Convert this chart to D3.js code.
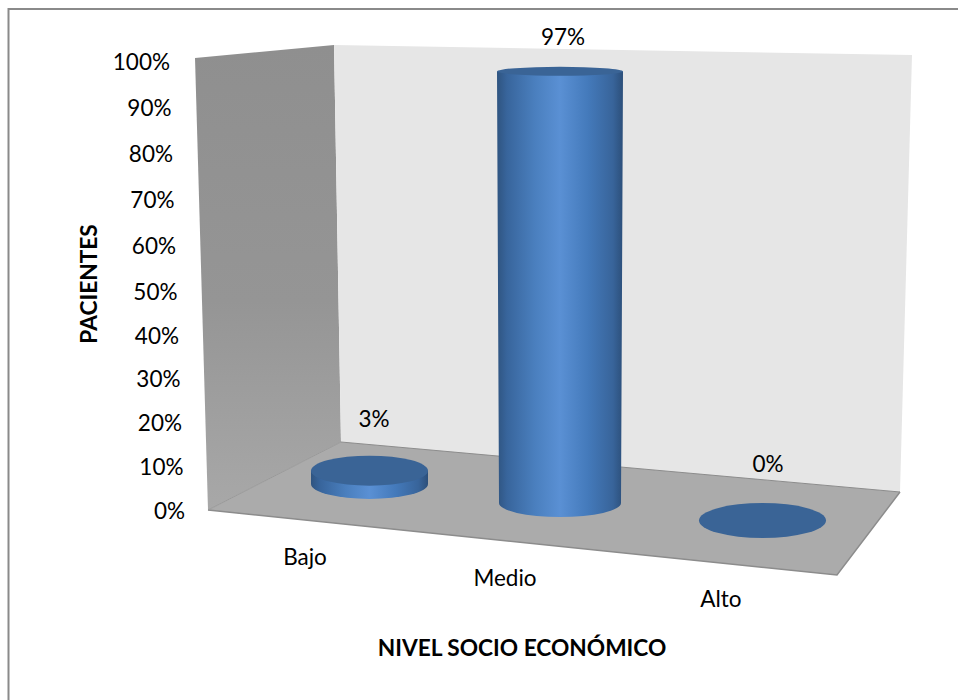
<!DOCTYPE html>
<html><head><meta charset="utf-8">
<script src="https://cdn.jsdelivr.net/npm/d3@7"></script>
<style>html,body{margin:0;padding:0;background:#fff}svg{display:block}text{font-family:Lato,"Open Sans",sans-serif;fill:#000}</style>
</head><body><svg id="c" width="958" height="700"></svg>
<script>
const categories = ["Bajo","Medio","Alto"];
const values = [3,97,0];
const valueLabels = ["3%","97%","0%"];
const ticks = [0,10,20,30,40,50,60,70,80,90,100];
const xTitle = "NIVEL SOCIO ECONÓMICO";
const yTitle = "PACIENTES";

const svg = d3.select("#c");
svg.append("path").attr("d","M958,9H8.5V700").attr("fill","none").attr("stroke","#8a8a8a").attr("stroke-width",2);

const defs = svg.append("defs");
const g = defs.append("linearGradient").attr("id","cyl").attr("x1","0").attr("x2","1").attr("y1","0").attr("y2","0");
[[0,"#2f5480"],[0.08,"#38659c"],[0.3,"#4a7fbe"],[0.5,"#5a90d4"],[0.72,"#447abb"],[0.92,"#38649a"],[1,"#2c4f7a"]].forEach(s=>g.append("stop").attr("offset",s[0]).attr("stop-color",s[1]));
const wg = defs.append("linearGradient").attr("id","wall").attr("x1","0").attr("x2","0").attr("y1","0").attr("y2","1");
[[0,"#8f8f8f"],[0.55,"#959595"],[1,"#a8a8a8"]].forEach(s=>wg.append("stop").attr("offset",s[0]).attr("stop-color",s[1]));

const poly = p => d3.line()(p)+"Z";
const LW = {tl:[195,58],tr:[334,45],br:[341,442],bl:[208,510]};
const BW = {tl:[334,45],tr:[912,55],br:[900,492],bl:[341,442]};
const FL = {bl:[208,510],tl:[341,442],tr:[900,492],br:[837,575]};
svg.append("path").attr("d",poly([LW.tl,LW.tr,LW.br,LW.bl])).attr("fill","url(#wall)");
svg.append("path").attr("d",poly([BW.tl,BW.tr,BW.br,BW.bl])).attr("fill","#e6e6e6");
svg.append("path").attr("d",poly([FL.bl,FL.tl,FL.tr,FL.br])).attr("fill","#ababab");
svg.append("path").attr("d",d3.line()([FL.tl,FL.tr])).attr("stroke","#8c8c8c").attr("fill","none");
svg.append("path").attr("d",d3.line()([FL.bl,FL.br,FL.tr])).attr("stroke","#8c8c8c").attr("stroke-width",1.5).attr("fill","none");
svg.append("path").attr("d",d3.line()([FL.bl,FL.tl])).attr("stroke","#999").attr("fill","none");

// y axis: perspective makes the ticks drift along the wall
const y = d3.scaleLinear().domain([0,50,100]).range([513,294,64]);
const tickRight = d3.scaleLinear().domain([0,100]).range([185,170]);
const ax = svg.append("g");
ax.selectAll("text").data(ticks).join("text")
  .attr("x",d=>tickRight(d)).attr("y",d=>y(d)).attr("text-anchor","end").attr("dominant-baseline","middle")
  .attr("font-size",22.5).text(d=>d3.format("d")(d)+"%");

// cylinders
const centerX = d3.scaleOrdinal().domain(categories).range([369.5,560,762.5]);
const baseY = d3.scaleOrdinal().domain(categories).range([484,503,520.5]);
const radX = d3.scaleOrdinal().domain(categories).range([58.5,61,63.5]);
const topRadX = d3.scaleOrdinal().domain(categories).range([58.5,63,63.5]);
const baseRy = d3.scaleOrdinal().domain(categories).range([15,14,17.5]);
const topRy = d3.scaleOrdinal().domain(categories).range([15,4.5,17.5]);
const hgt = d3.scaleLinear().domain([0,100]).range([0,445]);
const gs = svg.append("g");
categories.forEach((c,i)=>{
  const cx=centerX(c),by=baseY(c),rx=radX(c),trx=topRadX(c),ry=baseRy(c),h=hgt(values[i]);
  const top=by-h;
  if(h>0){
    gs.append("path").attr("d",`M${cx-trx},${top}L${cx-rx},${by}A${rx},${ry} 0 0 0 ${cx+rx},${by}L${cx+trx},${top}Z`).attr("fill","url(#cyl)");
  }
  gs.append("ellipse").attr("cx",cx).attr("cy",top).attr("rx",trx).attr("ry",topRy(c)).attr("fill","#3a6496");
});

// value labels
const lx=[374,563,768], ly=[421,39,466];
svg.append("g").selectAll("text").data(valueLabels).join("text")
 .attr("x",(d,i)=>lx[i]).attr("y",(d,i)=>ly[i]).attr("text-anchor","middle").attr("dominant-baseline","middle").attr("font-size",22.5).text(d=>d);
// category labels
const cx2=[305,505,721], cy2=[559,580,601];
svg.append("g").selectAll("text").data(categories).join("text")
 .attr("x",(d,i)=>cx2[i]).attr("y",(d,i)=>cy2[i]).attr("text-anchor","middle").attr("dominant-baseline","middle").attr("font-size",22.5).text(d=>d);
// titles
svg.append("text").attr("x",522).attr("y",650).attr("text-anchor","middle").attr("dominant-baseline","middle").attr("font-size",22.7).attr("font-weight",700).text(xTitle);
svg.append("text").attr("transform","translate(91,284) rotate(-90)").attr("text-anchor","middle").attr("dominant-baseline","middle").attr("font-size",22.7).attr("font-weight",700).text(yTitle);
</script></body></html>
